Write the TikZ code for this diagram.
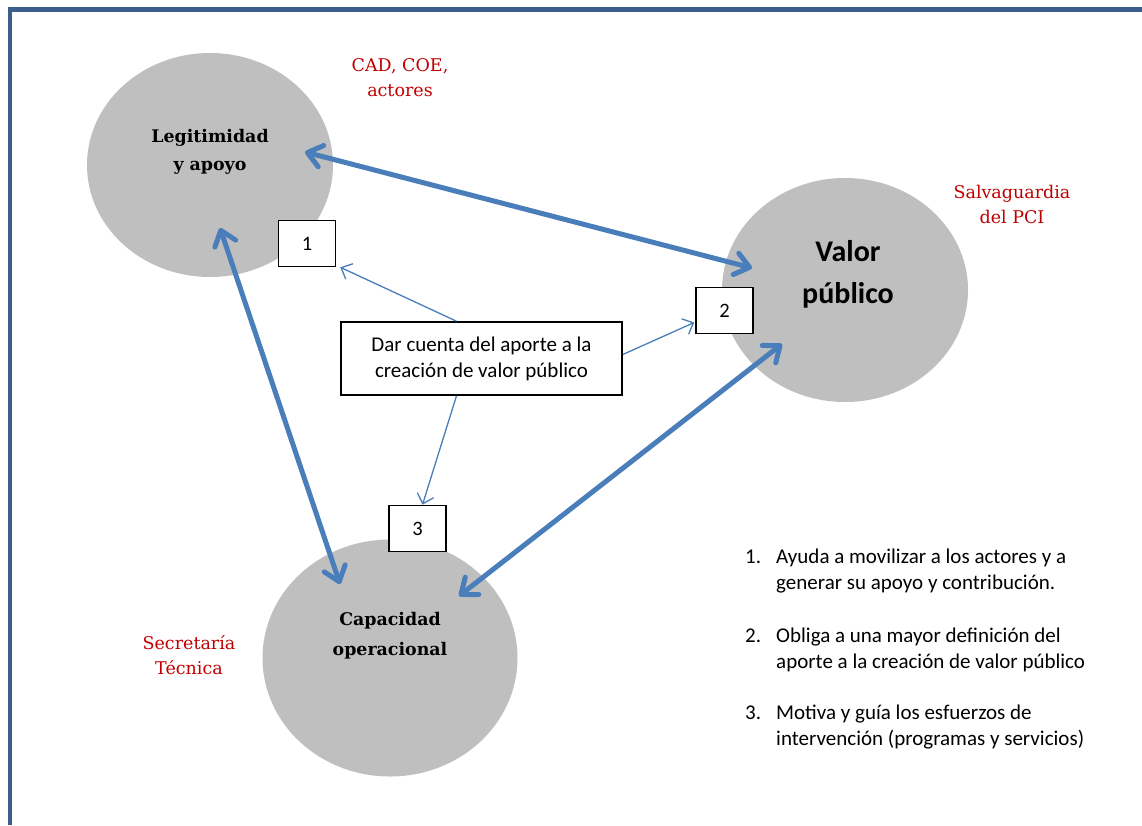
\documentclass[tikz,border=0pt]{standalone}
\usepackage{fontspec}
\setmainfont{DejaVu Serif}
\newfontfamily\calib{Carlito}
\usetikzlibrary{arrows.meta,shapes.geometric,calc}
\definecolor{framec}{RGB}{59,94,140}
\definecolor{arrowc}{RGB}{74,126,187}
\definecolor{ellc}{RGB}{191,191,191}
\definecolor{redc}{RGB}{192,0,0}
\begin{document}
\begin{tikzpicture}[x=1pt,y=-1pt,
  ell/.style={ellipse, fill=ellc, draw=none, inner sep=0pt, minimum width=246pt, minimum height=224pt},
  numbox/.style={draw=black, line width=1.6pt, fill=white, minimum width=57pt, minimum height=46pt, inner sep=0pt, font=\calib\fontsize{20.5}{24}\selectfont},
  dartext/.style={draw=black, line width=1.6pt, fill=white, minimum width=281pt, minimum height=73pt, inner sep=0pt, align=center, font=\calib\fontsize{21}{26}\selectfont},
  elltext/.style={align=center, font=\bfseries\fontsize{17.4}{28}\selectfont},
  redlab/.style={align=center, text=redc, font=\fontsize{17.5}{25}\selectfont},
  listtext/.style={anchor=base west, inner sep=0pt, font=\calib\fontsize{21}{24}\selectfont},
  bigarr/.style={draw=arrowc, line width=5pt, line cap=round,
    {Straight Barb[length=14pt,width=22pt,round]}-{Straight Barb[length=14pt,width=22pt,round]}},
  smallarr/.style={draw=arrowc, line width=1.3pt, -{Straight Barb[length=9pt,width=17pt]}}
]
\useasboundingbox (0,0) rectangle (1142,825);
\fill[white] (0,0) rectangle (1142,825);
% frame
\draw[framec, line width=4.5pt] (10,825) -- (10,9.5) -- (1142,9.5);

% ellipses
\node[ell] (leg) at (210,165) {};
\node[ell] (val) at (845,290) {};
\node[ell, minimum width=255pt, minimum height=237pt] (cap) at (390,658) {};
\node[elltext] (legt) at (210,152) {Legitimidad\\y apoyo};
\node[elltext, font=\bfseries\fontsize{17.4}{30}\selectfont] (capt) at (390,636) {Capacidad\\operacional};
\node[align=center, font=\calib\bfseries\fontsize{30}{42}\selectfont] (valt) at (848,274) {Valor\\público};

% red labels
\node[redlab] (cad) at (400,78) {CAD, COE,\\actores};
\node[redlab] (salv) at (1012,204) {Salvaguardia\\del PCI};
\node[redlab] (secr) at (189,655) {Secretaría\\Técnica};

% boxes
\node[numbox] (b1) at (307,243.5) {1};
\node[numbox] (b2) at (724.5,310.5) {2};
\node[numbox] (b3) at (417.5,528.5) {3};
\node[dartext] (dar) at (481.5,358.5) {Dar cuenta del aporte a la\\creación de valor público};

% thin arrows
\draw[smallarr] ($(dar.north)+(-25,0)$) -- ($(b1.south east)+(4,0)$);
\draw[smallarr] ($(dar.east)+(0,-4)$) -- ($(b2.west)+(-1,12)$);
\draw[smallarr] ($(dar.south)+(-25,0)$) -- ($(b3.north)+(5,0)$);

% thick double arrows
\draw[bigarr] ($(leg)+(95,-13)$) -- ($(val)+(-93,-22)$);
\draw[bigarr] ($(leg)+(10,63)$) -- ($(cap)+(-50,-74)$);
\draw[bigarr] ($(val)+(-63,54)$) -- ($(cap)+(69,-62)$);

% list
\node[listtext] (n1) at (745,563) {1.};
\node[listtext] (l1a) at (776,563) {Ayuda a movilizar a los actores y a};
\node[listtext] (l1b) at (776,589) {generar su apoyo y contribución.};
\node[listtext] (n2) at (745,642) {2.};
\node[listtext] (l2a) at (776,642) {Obliga a una mayor definición del};
\node[listtext] (l2b) at (776,668) {aporte a la creación de valor público};
\node[listtext] (n3) at (745,719) {3.};
\node[listtext] (l3a) at (776,719) {Motiva y guía los esfuerzos de};
\node[listtext] (l3b) at (776,745) {intervención (programas y servicios)};
\end{tikzpicture}
\end{document}
